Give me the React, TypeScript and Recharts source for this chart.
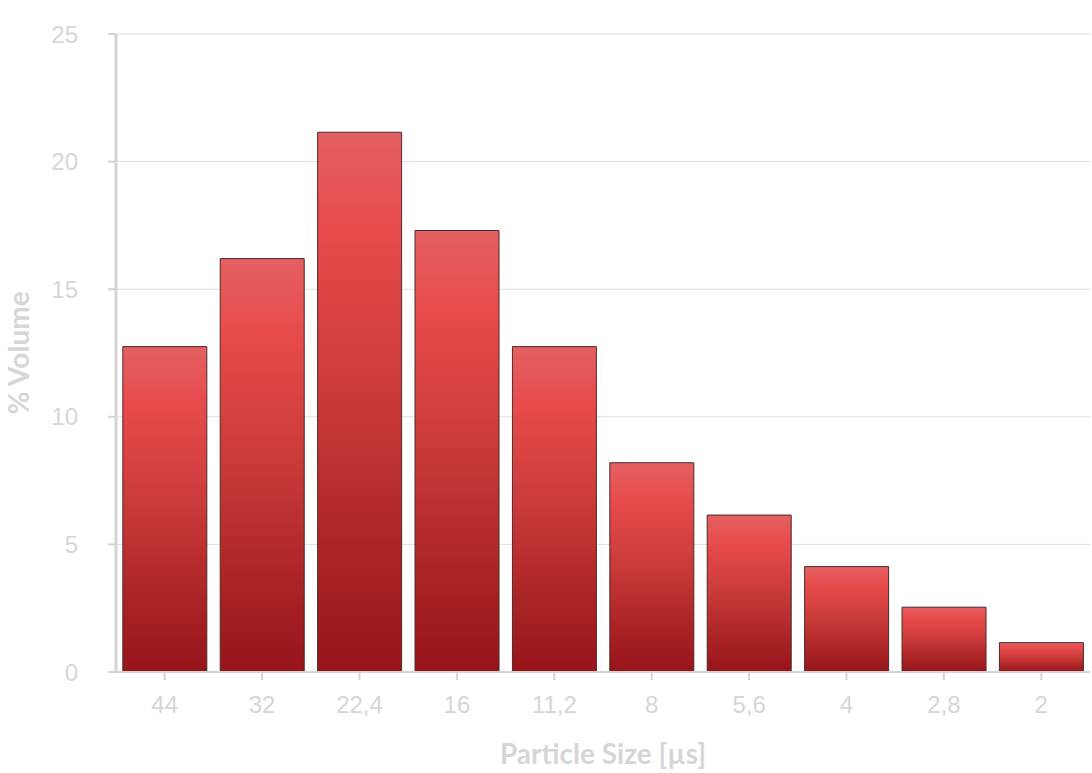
import React from 'react';
import { BarChart, Bar, XAxis, YAxis, CartesianGrid } from 'recharts';

const sizes = ['44', '32', '22,4', '16', '11,2', '8', '5,6', '4', '2,8', '2'];
const volumes = [12.75, 16.2, 21.15, 17.3, 12.75, 8.2, 6.15, 4.13, 2.54, 1.15];
const yTicks = [0, 5, 10, 15, 20, 25];

const data = sizes.map((name, i) => ({ name, value: volumes[i] }));

const axisGray = '#d4d4d4';
const textGray = '#d6d6d6';

export default function App() {
  return (
    <div style={{ position: 'absolute', left: 0, top: 0, fontFamily: '"Liberation Sans", Arial, sans-serif' }}>
      <BarChart
        width={1092}
        height={773}
        data={data}
        margin={{ top: 34, right: 2, left: 0, bottom: 0 }}
        barCategoryGap="7%"
      >
        <defs>
          <linearGradient id="barFill" x1="0" y1="0" x2="0" y2="1">
            <stop offset="0%" stopColor="#e46062" />
            <stop offset="18%" stopColor="#e84b4c" />
            <stop offset="50%" stopColor="#c83a38" />
            <stop offset="78%" stopColor="#ab2425" />
            <stop offset="100%" stopColor="#97141a" />
          </linearGradient>
        </defs>
        <CartesianGrid vertical={false} stroke="#dedede" strokeWidth={1} />
        <XAxis
          dataKey="name"
          height={101}
          stroke={axisGray}
          strokeWidth={2}
          tickSize={8}
          tickMargin={16}
          tick={{ fill: textGray, fontSize: 24 }}
          tickLine={{ stroke: axisGray, strokeWidth: 2 }}
          label={{
            value: 'Particle Size [µs]',
            position: 'insideBottom',
            offset: 9,
            fill: textGray,
            fontSize: 28,
            fontWeight: 'bold',
            fontFamily: 'Lato, sans-serif',
          }}
        />
        <YAxis
          width={116}
          domain={[0, 25]}
          ticks={yTicks}
          stroke={axisGray}
          strokeWidth={3}
          tickSize={8}
          tickMargin={30}
          tick={{ fill: textGray, fontSize: 24 }}
          tickLine={{ stroke: axisGray, strokeWidth: 2 }}
          label={{
            value: '% Volume',
            angle: -90,
            position: 'insideLeft',
            offset: 19,
            fill: textGray,
            fontSize: 28,
            fontWeight: 'bold',
            fontFamily: 'Lato, sans-serif',
            style: { textAnchor: 'middle' },
          }}
        />
        <Bar
          dataKey="value"
          fill="url(#barFill)"
          stroke="#4a2b2b"
          strokeWidth={1}
          isAnimationActive={false}
        />
      </BarChart>
    </div>
  );
}
